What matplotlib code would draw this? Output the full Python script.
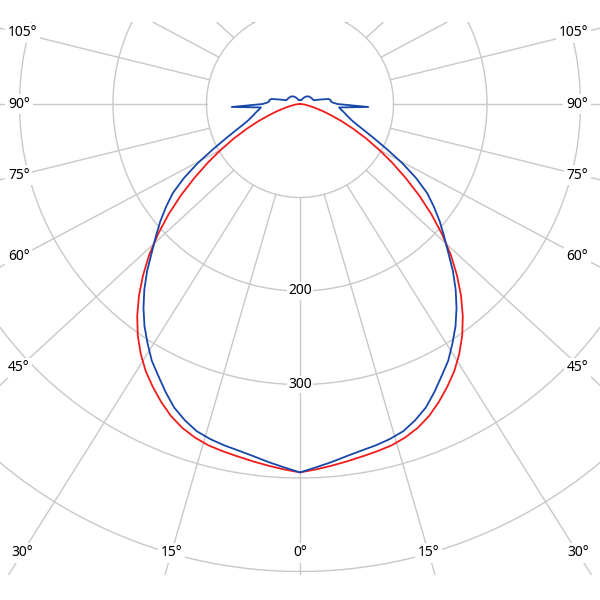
import numpy as np
import matplotlib
matplotlib.use("Agg")
import matplotlib.pyplot as plt
from matplotlib.patches import Rectangle

# ---- data (cd/klm) at 2.5 degree steps ----
gamma_red = [0, 2.5, 5, 7.5, 10, 12.5, 15, 17.5, 20, 22.5, 25, 27.5, 30, 32.5, 35, 37.5,
             40, 42.5, 45, 47.5, 50, 52.5, 55, 57.5, 60, 62.5, 65, 67.5, 70, 72.5, 75,
             77.5, 80, 82.5, 85, 87.5, 90]
inten_red = [394, 391.2, 388.3, 385.5, 382.8, 380.5, 378, 374, 368.5, 361, 351.5, 341, 330,
             317, 302.5, 286, 268, 248.5, 228, 206, 183.5, 160.5, 138, 117, 97.5, 79.5, 63,
             48.5, 36, 26, 18, 12, 8, 5, 3, 1.5, 0]

gamma_blue = [0, 2.5, 5, 7.5, 10, 12.5, 15, 17.5, 20, 22.5, 25, 27.5, 30, 32.5, 35, 37.5,
              40, 42.5, 45, 47.5, 50, 52.5, 55, 57.5, 60, 62.5, 65, 67.5, 70, 72.5, 75,
              77.5, 80, 82.5, 85, 87.5, 90, 92.5, 95, 97.5, 100, 102.5, 105, 107.5, 110,
              115, 120, 125, 130, 135, 140, 145, 150, 155, 160, 165, 170, 175, 180]
inten_blue = [394, 389, 384.5, 380, 376.5, 374, 371, 367, 360, 351.5, 340, 328, 317,
              303.5, 290, 275, 259, 242, 224, 209, 195, 180.5, 166, 147, 126, 105, 88,
              75, 65, 58, 53.5, 50, 47, 44, 42, 73, 40, 35, 33, 33, 31, 22, 15.5, 15, 14.5,
              14, 13.5, 13, 12.5, 11.5, 10.5, 9, 7.5, 6, 4.6, 4.3, 4.3, 4.3, 4.3]

ring_values = [100, 200, 300, 400, 500, 600]
ring_labels = [200, 300]
ray_angles = list(range(0, 181, 15))
angle_labels = [0, 15, 30, 45, 60, 75, 90, 105]

# ---- layout ----
W = H = 600
scale = 0.935          # px per cd
cx, cy = 300.0, 104.0  # pixel position of the centre
GRID = "#c8c8c8"
RED = "#f21c1c"
BLUE = "#1747aa"
FONT = "Noto Sans"
FS = 10

fig = plt.figure(figsize=(6, 6), dpi=100)
ax = fig.add_axes([0, 0, 1, 1])
ax.set_xlim(-cx / scale, (W - cx) / scale)
ax.set_ylim(-(H - cy) / scale, cy / scale)
ax.axis("off")

def px2d(px, py):
    return (px - cx) / scale, (cy - py) / scale

# clip box for the grid
x0, ytop = px2d(0, 21.5)
x1, ybot = px2d(600, 575)
clip = Rectangle((x0, ybot), x1 - x0, ytop - ybot, transform=ax.transData,
                 facecolor="none", edgecolor="none")
ax.add_patch(clip)

# rings
t = np.linspace(0, 2 * np.pi, 721)
for r in ring_values:
    ln, = ax.plot(r * np.cos(t), r * np.sin(t), color=GRID, lw=1.0, zorder=1)
    ln.set_clip_path(clip)

# rays: start on the 100 ring, slightly steeper direction (as in the reference)
k = 0.92
r0 = ring_values[0]
for a in ray_angles:
    th = np.radians(a)
    for s in (1, -1):
        p0 = np.array([s * r0 * np.sin(th), -r0 * np.cos(th)])
        d = np.array([s * np.sin(th), -k * np.cos(th)])
        d /= np.linalg.norm(d)
        p1 = p0 + 1000 * d
        ln, = ax.plot([p0[0], p1[0]], [p0[1], p1[1]], color=GRID, lw=1.0, zorder=1)
        ln.set_clip_path(clip)
        if a == 0 or a == 180:
            break

# angle labels on the frame
bx_left, by_bot = px2d(19, 553)
bx_right, _ = px2d(581, 553)
xl_text, _ = px2d(8, 0)
xr_text, _ = px2d(588, 0)
bbox = dict(boxstyle="square,pad=0.2", facecolor="white", edgecolor="none")
for a in angle_labels:
    th = np.radians(a)
    for s in (1, -1):
        p0 = np.array([s * r0 * np.sin(th), -r0 * np.cos(th)])
        d = np.array([s * np.sin(th), -k * np.cos(th)])
        d /= np.linalg.norm(d)
        tb = (by_bot - p0[1]) / d[1] if d[1] < 0 else np.inf
        xb = p0[0] + tb * d[0]
        if bx_left <= xb <= bx_right:
            ax.text(xb, by_bot, f"{a}°", ha="center", va="center", fontsize=FS,
                    family=FONT, color="black", bbox=bbox, zorder=3)
        else:
            xe = bx_left if s < 0 else bx_right
            te = (xe - p0[0]) / d[0]
            ye = p0[1] + te * d[1]
            if s < 0:
                ax.text(xl_text, ye, f"{a}°", ha="left", va="center", fontsize=FS,
                        family=FONT, color="black", bbox=bbox, zorder=3)
            else:
                ax.text(xr_text, ye, f"{a}°", ha="right", va="center", fontsize=FS,
                        family=FONT, color="black", bbox=bbox, zorder=3)
        if a == 0:
            break

# ring value labels
for v in ring_labels:
    ax.text(0, -v, str(v), ha="center", va="center", fontsize=FS, family=FONT,
            color="black", bbox=dict(boxstyle="square,pad=0.1", facecolor="white",
                                     edgecolor="none"), zorder=3)

# curves (mirrored about the 0 degree axis)
def curve(g, i):
    g = np.radians(np.asarray(g, float))
    i = np.asarray(i, float)
    xr, yr = i * np.sin(g), -i * np.cos(g)
    x = np.concatenate([-xr[::-1], xr[1:]])
    y = np.concatenate([yr[::-1], yr[1:]])
    return x, y

xr_, yr_ = curve(gamma_red, inten_red)
ax.plot(xr_, yr_, color=RED, lw=1.3, zorder=4, solid_joinstyle="round")
xb_, yb_ = curve(gamma_blue, inten_blue)
ax.plot(xb_, yb_, color=BLUE, lw=1.3, zorder=5, solid_joinstyle="round")

fig.savefig("out.png", dpi=100, facecolor="white")
